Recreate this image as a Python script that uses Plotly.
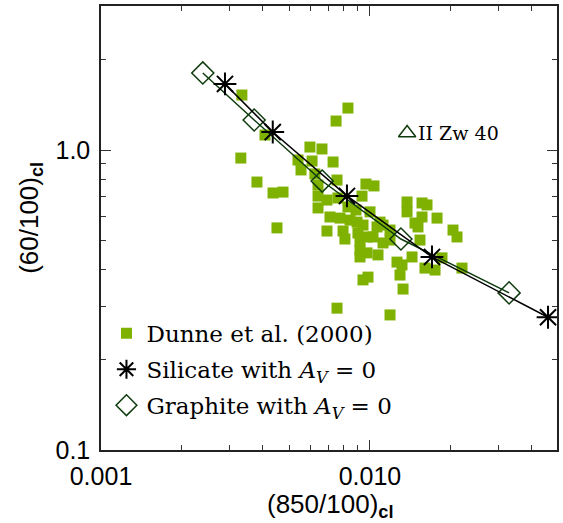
import math
import plotly.graph_objects as go

# Dunne et al. (2000) sample
dunne_x = [0.00334, 0.00828, 0.00748, 0.00407, 0.00331, 0.00380, 0.00436, 0.00475, 0.00451,
           0.00598, 0.00663, 0.00540, 0.00609, 0.00729, 0.00554, 0.00624, 0.00754, 0.00641,
           0.00692, 0.00641, 0.00966, 0.01035, 0.00934, 0.01000, 0.00710, 0.00774, 0.00895,
           0.00942, 0.01090, 0.01118, 0.00692, 0.00794, 0.00807, 0.00902, 0.00918, 0.00975,
           0.01062, 0.01026, 0.01187, 0.01187, 0.01118, 0.00918, 0.00975, 0.01071, 0.00918,
           0.01373, 0.01373, 0.01561, 0.01629, 0.01561, 0.01775, 0.01470, 0.01508, 0.01534,
           0.02035, 0.02106, 0.01260, 0.01315, 0.01293, 0.01433, 0.01601, 0.01745, 0.01852,
           0.02198, 0.00942, 0.00983, 0.01327, 0.00754, 0.01187, 0.00828, 0.00887, 0.00843,
           0.00641, 0.00760]
dunne_y = [1.525, 1.380, 1.249, 1.122, 0.940, 0.782, 0.719, 0.724, 0.550,
           1.023, 1.008, 0.926, 0.919, 0.912, 0.858, 0.832, 0.794, 0.702,
           0.681, 0.641, 0.770, 0.759, 0.702, 0.622, 0.598, 0.593, 0.575,
           0.562, 0.575, 0.562, 0.537, 0.537, 0.505, 0.529, 0.497, 0.513,
           0.554, 0.513, 0.541, 0.501, 0.490, 0.464, 0.454, 0.447, 0.440,
           0.671, 0.622, 0.666, 0.656, 0.598, 0.593, 0.571, 0.554, 0.501,
           0.541, 0.513, 0.423, 0.414, 0.383, 0.440, 0.404, 0.398, 0.437,
           0.404, 0.369, 0.377, 0.344, 0.297, 0.282, 0.646, 0.631, 0.584,
           0.764, 0.692]

# model tracks
sil_x = [0.00289, 0.00435, 0.00821, 0.0170, 0.0459]
sil_y = [1.66, 1.148, 0.703, 0.440, 0.277]
gra_x = [0.00239, 0.00371, 0.00664, 0.01303, 0.0329]
gra_y = [1.806, 1.259, 0.788, 0.505, 0.334]

# II Zw 40
zw_x = [0.01374]
zw_y = [1.14]
zw_label = "II Zw 40"

x_ticks = [0.001, 0.01]
x_ticktext = ["0.001", "0.010"]
x_minor = [0.002, 0.003, 0.004, 0.005, 0.006, 0.007, 0.008, 0.009, 0.02, 0.03, 0.04]
y_ticks = [0.1, 1.0]
y_ticktext = ["0.1", "1.0"]
y_minor = [0.2, 0.3, 0.4, 0.5, 0.6, 0.7, 0.8, 0.9, 2.0]

x_title = "(850/100)<sub><b>cl</b></sub>"
y_title = "(60/100)<sub><b>cl</b></sub>"

GREEN = "#7FB200"
DKGREEN = "#0E3B0E"
SERIF = "DejaVu Serif"
SANS = "Liberation Sans"

fig = go.Figure()

fig.add_trace(go.Scatter(x=dunne_x, y=dunne_y, mode="markers",
                         marker=dict(symbol="square", size=11, color=GREEN),
                         showlegend=False))
fig.add_trace(go.Scatter(x=gra_x, y=gra_y, mode="lines+markers",
                         line=dict(color=DKGREEN, width=1.5),
                         marker=dict(symbol="diamond-open", size=17, color=DKGREEN,
                                     line=dict(width=1.5, color=DKGREEN)),
                         showlegend=False))
fig.add_trace(go.Scatter(x=sil_x, y=sil_y, mode="lines+markers",
                         line=dict(color="black", width=1.5),
                         marker=dict(symbol="asterisk-open", size=19, color="black",
                                     line=dict(width=2, color="black")),
                         showlegend=False))
fig.add_trace(go.Scatter(x=zw_x, y=zw_y, mode="markers",
                         marker=dict(symbol="triangle-up-open", size=15, color=DKGREEN,
                                     line=dict(width=1.5, color=DKGREEN)),
                         showlegend=False))

# legend entries
fig.add_trace(go.Scatter(x=[None], y=[None], mode="markers", name="Dunne et al. (2000)",
                         legendgroup="a",
                         marker=dict(symbol="square", size=11, color=GREEN)))
fig.add_trace(go.Scatter(x=[None], y=[None], mode="markers",
                         name="Silicate with <i>A<sub>V</sub></i> = 0", legendgroup="b",
                         marker=dict(symbol="asterisk-open", size=19, color="black",
                                     line=dict(width=2, color="black"))))
fig.add_trace(go.Scatter(x=[None], y=[None], mode="markers",
                         name="Graphite with <i>A<sub>V</sub></i> = 0", legendgroup="c",
                         marker=dict(symbol="diamond-open", size=17, color=DKGREEN,
                                     line=dict(width=1.5, color=DKGREEN))))

# label next to II Zw 40 (annotation positions on log axes are in log10 units)
fig.add_annotation(x=math.log10(zw_x[0]), y=math.log10(zw_y[0]), xref="x", yref="y",
                   text=zw_label, xanchor="left", yanchor="middle", xshift=9,
                   showarrow=False, font=dict(family=SERIF, size=19, color="black"))

# axis titles
fig.add_annotation(x=0.502, y=-0.083, xref="paper", yref="paper", text=x_title,
                   xanchor="center", yanchor="top", showarrow=False,
                   font=dict(family=SANS, size=26, color="black"))
fig.add_annotation(x=-0.156, y=0.5225, xref="paper", yref="paper", text=y_title,
                   textangle=-90, xanchor="center", yanchor="middle", showarrow=False,
                   font=dict(family=SANS, size=26, color="black"))

axis_common = dict(showline=True, linecolor="#222", linewidth=1.5, mirror="allticks",
                   ticks="inside", ticklen=10, tickwidth=1.2, tickcolor="#333",
                   showgrid=False, zeroline=False,
                   tickfont=dict(family=SANS, size=25, color="black"))

fig.update_xaxes(type="log", range=[-3, -1.3048], tickmode="array",
                 tickvals=x_ticks, ticktext=x_ticktext, ticklabelstandoff=3,
                 minor=dict(tickmode="array", tickvals=x_minor, ticks="inside",
                            ticklen=5, tickwidth=1.2, tickcolor="#333", showgrid=False),
                 **axis_common)
fig.update_yaxes(type="log", range=[-1, 0.48], tickmode="array",
                 tickvals=y_ticks, ticktext=y_ticktext, ticklabelstandoff=4,
                 minor=dict(tickmode="array", tickvals=y_minor, ticks="inside",
                            ticklen=5, tickwidth=1.2, tickcolor="#333", showgrid=False),
                 **axis_common)

fig.update_layout(width=563, height=523,
                  margin=dict(l=101, r=6, t=6, b=73, autoexpand=False),
                  paper_bgcolor="white", plot_bgcolor="white",
                  legend=dict(x=0.012, y=0.311, xanchor="left", yanchor="top",
                              bgcolor="rgba(0,0,0,0)", traceorder="grouped",
                              tracegroupgap=3,
                              font=dict(family=SERIF, size=23, color="black")))

fig.write_html("out.html")
